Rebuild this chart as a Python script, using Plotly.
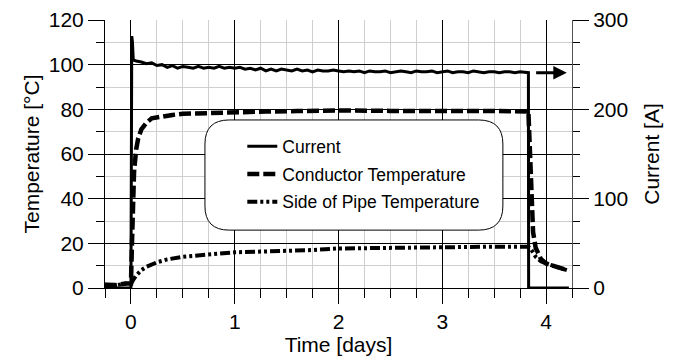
import plotly.graph_objects as go

# ---------------- data ----------------
cur_t = [-0.25, -0.01, 0.0, 0.008, 0.014, 0.022, 0.03,
         0.05, 0.10, 0.15, 0.20, 0.25, 0.30, 0.35, 0.40, 0.45, 0.50,
         0.55, 0.60, 0.65, 0.70, 0.75, 0.80, 0.85, 0.90, 0.95, 1.00,
         1.05, 1.10, 1.15, 1.20, 1.25, 1.30, 1.35, 1.40, 1.45, 1.50,
         1.55, 1.60, 1.65, 1.70, 1.75, 1.80, 1.85, 1.90, 1.95, 2.00,
         2.05, 2.10, 2.15, 2.20, 2.25, 2.30, 2.35, 2.40, 2.45, 2.50,
         2.55, 2.60, 2.65, 2.70, 2.75, 2.80, 2.85, 2.90, 2.95, 3.00,
         3.05, 3.10, 3.15, 3.20, 3.25, 3.30, 3.35, 3.40, 3.45, 3.50,
         3.55, 3.60, 3.65, 3.70, 3.75, 3.80, 3.83, 3.832, 4.0, 4.22]
cur_v = [0, 0, 0, 282, 276, 256, 255,
         254, 253, 251, 252, 249, 250, 247, 249, 246, 248,
         247, 246, 248, 246, 247, 246, 248, 246, 247, 246,
         247, 245, 246, 244, 246, 243, 245, 243, 245, 244,
         243, 245, 243, 244, 242, 244, 243, 243, 244, 243,
         242, 243, 242, 243, 241, 243, 242, 242, 243, 241,
         242, 243, 242, 241, 243, 242, 242, 243, 241, 242,
         243, 241, 242, 242, 241, 243, 242, 241, 242, 242,
         241, 242, 242, 241, 242, 241, 241, 0, 0, 0]

cond_t = [-0.25, -0.15, -0.05, 0.0, 0.01, 0.02, 0.03, 0.05, 0.07, 0.1, 0.15, 0.2, 0.3,
          0.4, 0.5, 0.7, 1.0, 1.3, 1.6, 2.0, 2.5, 3.0, 3.5, 3.83, 3.845, 3.86, 3.875,
          3.9, 3.95, 4.0, 4.1, 4.2]
cond_v = [1.5, 1.3, 2.0, 2.0, 20, 42, 52, 62, 67, 71, 74, 76, 77, 77.5, 78, 78.3, 79,
          79, 79.2, 79.5, 79.3, 79.5, 79.3, 79, 60, 40, 25, 18, 13, 11, 9.5, 8]

side_t = [-0.25, -0.15, -0.05, 0.0, 0.02, 0.05, 0.1, 0.15, 0.25, 0.35, 0.5, 0.75, 1.0,
          1.25, 1.5, 1.75, 2.0, 2.5, 3.0, 3.5, 3.83, 3.86, 3.9, 3.95, 4.0, 4.1, 4.2]
side_v = [1.5, 1.2, 2.0, 1.8, 3.5, 5.5, 8, 9.5, 11.5, 12.8, 14, 15.2, 16, 16.3, 16.5,
          17, 17.7, 18, 18.5, 18.5, 18.5, 17, 14, 12, 11, 9.5, 8]

names = ["Current", "Conductor Temperature", "Side of Pipe Temperature"]

FONT = "Liberation Sans, Arial, sans-serif"
MINOR_GRID = "#cfcfcf"

fig = go.Figure()
fig.add_trace(go.Scatter(x=cur_t, y=cur_v, name=names[0], yaxis="y2", mode="lines",
                         legendgroup="a",
                         line=dict(color="black", width=3)))
fig.add_trace(go.Scatter(x=cond_t, y=cond_v, name=names[1], mode="lines",
                         legendgroup="b",
                         line=dict(color="black", width=4.5, dash="12px,4px")))
fig.add_trace(go.Scatter(x=side_t, y=side_v, name=names[2], mode="lines",
                         legendgroup="c",
                         line=dict(color="black", width=4,
                                   dash="10px,3px,3px,3px,3px,3px")))

# rounded legend box (paper coordinates)
x0, x1, y0, y1 = 0.214, 0.852, 0.216, 0.627
rx, ry = 0.052, 0.09
path = (f"M {x0+rx},{y1} L {x1-rx},{y1} Q {x1},{y1} {x1},{y1-ry} "
        f"L {x1},{y0+ry} Q {x1},{y0} {x1-rx},{y0} L {x0+rx},{y0} "
        f"Q {x0},{y0} {x0},{y0+ry} L {x0},{y1-ry} Q {x0},{y1} {x0+rx},{y1} Z")
fig.add_shape(type="path", path=path, xref="paper", yref="paper",
              fillcolor="white", line=dict(color="black", width=1), layer="above")

# arrow pointing to the right axis
steady = cur_v[cur_t.index(3.8)]
fig.add_annotation(x=4.2, y=steady, ax=3.89, ay=steady, xref="x", yref="y2",
                   axref="x", ayref="y2", text="", showarrow=True,
                   arrowhead=2, arrowsize=0.9, arrowwidth=3, arrowcolor="black")

tickfont = dict(size=21, color="black", family=FONT)
fig.update_layout(
    width=680, height=358,
    margin=dict(l=105, r=108, t=20, b=70, autoexpand=False),
    paper_bgcolor="white", plot_bgcolor="white",
    font=dict(family=FONT, color="black"),
    showlegend=True,
    legend=dict(x=0.294, y=0.596, xanchor="left", yanchor="top",
                bgcolor="rgba(0,0,0,0)", borderwidth=0,
                font=dict(size=17.5, family=FONT, color="black"),
                traceorder="grouped", tracegroupgap=2),
    xaxis=dict(range=[-0.25, 4.25], tick0=0, dtick=1, ticks="outside", ticklen=15,
               tickcolor="black", showgrid=True, gridcolor="black", gridwidth=1,
               zeroline=False, showline=True, linecolor="black", tickfont=tickfont,
               automargin=False,
               minor=dict(dtick=0.25, tick0=0, ticks="outside", ticklen=9,
                          tickcolor="black", showgrid=True, gridcolor=MINOR_GRID),
               title=dict(text="Time [days]", font=dict(size=21, family=FONT),
                          standoff=4)),
    yaxis=dict(range=[0, 120], dtick=20, ticks="outside", ticklen=16,
               tickcolor="black", showgrid=True, gridcolor="black", gridwidth=1,
               zeroline=False, showline=True, linecolor="black", tickfont=tickfont,
               automargin=False,
               minor=dict(dtick=10, ticks="outside", ticklen=8, tickcolor="black",
                          showgrid=True, gridcolor=MINOR_GRID),
               title=dict(text="Temperature [°C]", font=dict(size=21, family=FONT),
                          standoff=3)),
    yaxis2=dict(range=[0, 300], dtick=100, overlaying="y", side="right",
                ticks="outside", ticklen=16, tickcolor="black", showgrid=False,
                zeroline=False, showline=True, linecolor="#555555",
                tickfont=tickfont, automargin=False,
                minor=dict(dtick=25, ticks="outside", ticklen=7, tickcolor="black",
                           showgrid=False),
                title=dict(text="Current [A]", font=dict(size=21, family=FONT),
                           standoff=17)),
)

fig.write_html("out.html")
